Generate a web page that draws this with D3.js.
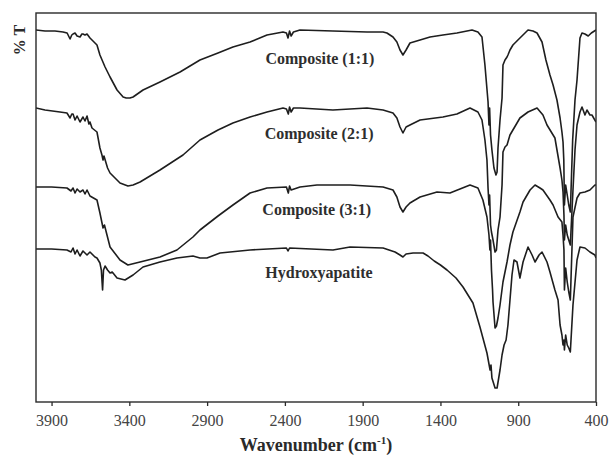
<!DOCTYPE html>
<html><head><meta charset="utf-8">
<script src="https://cdn.jsdelivr.net/npm/d3@7"></script>
<style>
html,body{margin:0;padding:0;background:#fff;}
svg{display:block;}
</style></head>
<body>
<svg id="chart" width="609" height="455"></svg>
<script>
// ---- data: [wavenumber (cm-1), transmittance (arb. units, offset)] ----
const composite11 = [[4000,372],[3942,371],[3878,371],[3826,370],[3800,369],[3781,363],[3770,367],[3762,368],[3749,369],[3736,366],[3717,365],[3705,368],[3698,368],[3685,367],[3672,368],[3653,364],[3640,362],[3608,357],[3589,347],[3556,335],[3524,325],[3479,312],[3440,305],[3420,304],[3396,304],[3376,305],[3312,312],[3203,320],[3074,330],[2946,342],[2830,349],[2734,355],[2624,360],[2515,367],[2412,370],[2390,369],[2380,364],[2370,371],[2360,366],[2345,370],[2303,372],[2091,371],[1872,370],[1769,370],[1744,369],[1705,365],[1680,360],[1660,352],[1641,347],[1621,352],[1596,359],[1531,362],[1467,365],[1384,367],[1294,369],[1197,372],[1159,370],[1133,365],[1114,337],[1094,300],[1088,277],[1084,294],[1078,267],[1069,252],[1056,234],[1043,227],[1036,230],[1030,254],[1017,282],[1004,304],[998,337],[985,342],[972,345],[966,347],[953,352],[934,357],[889,364],[837,372],[805,371],[779,369],[747,360],[722,342],[696,327],[676,317],[651,302],[631,284],[619,270],[612,260],[607,242],[603,197],[595,217],[585,207],[575,197],[565,190],[550,262],[535,302],[522,322],[503,364],[490,369],[471,368],[450,366],[430,369],[410,371],[400,372]];
const composite21 = [[4000,294],[3942,292],[3846,290],[3801,289],[3781,284],[3770,288],[3762,288],[3749,282],[3736,286],[3717,280],[3698,285],[3685,281],[3672,286],[3660,278],[3653,280],[3640,274],[3608,270],[3589,254],[3576,247],[3569,242],[3563,246],[3540,234],[3524,229],[3460,219],[3409,216],[3376,217],[3331,220],[3203,232],[3055,247],[2946,262],[2830,272],[2734,279],[2624,285],[2515,290],[2412,294],[2390,293],[2378,288],[2370,295],[2360,290],[2345,294],[2303,294],[2091,292],[1872,294],[1769,292],[1705,289],[1680,284],[1660,275],[1641,269],[1621,275],[1596,277],[1531,282],[1384,285],[1294,288],[1210,294],[1159,290],[1133,282],[1114,262],[1101,242],[1094,214],[1088,197],[1084,207],[1078,177],[1072,170],[1062,162],[1049,150],[1040,152],[1030,172],[1017,185],[1004,217],[998,250],[985,255],[972,257],[953,267],[889,284],[837,290],[779,294],[741,287],[715,277],[664,264],[631,234],[619,222],[612,210],[606,187],[603,162],[595,177],[585,167],[575,162],[565,157],[548,212],[535,252],[522,277],[503,290],[490,295],[471,287],[458,292],[439,287],[426,287],[400,280]];
const composite31 = [[4000,215],[3900,215],[3801,214],[3775,211],[3762,214],[3749,209],[3736,213],[3717,210],[3698,212],[3685,208],[3672,212],[3653,206],[3608,202],[3589,189],[3569,174],[3560,177],[3524,155],[3460,142],[3409,137],[3331,140],[3203,145],[3094,152],[2991,165],[2946,172],[2830,186],[2734,197],[2624,209],[2515,214],[2390,215],[2378,209],[2370,216],[2360,212],[2303,215],[2194,217],[1981,217],[1769,215],[1705,212],[1680,205],[1660,195],[1641,190],[1621,195],[1596,199],[1531,205],[1422,210],[1339,209],[1210,217],[1159,214],[1127,202],[1101,185],[1088,167],[1082,152],[1078,162],[1072,132],[1065,112],[1062,100],[1049,74],[1040,76],[1030,84],[1017,97],[998,120],[972,140],[953,157],[934,170],[889,190],[869,200],[824,212],[792,217],[760,214],[741,212],[696,202],[676,197],[644,185],[619,180],[612,167],[606,152],[603,112],[595,134],[585,120],[575,110],[565,102],[548,185],[522,204],[503,209],[471,210],[439,212],[407,217],[400,217]];
const hydroxyapatite = [[4000,153],[3900,153],[3801,152],[3775,150],[3762,154],[3749,148],[3736,152],[3717,146],[3698,151],[3672,147],[3653,150],[3621,145],[3608,144],[3589,139],[3580,132],[3572,112],[3566,132],[3556,136],[3540,132],[3524,129],[3510,130],[3479,124],[3428,122],[3376,127],[3312,135],[3203,140],[3094,144],[2991,146],[2946,144],[2901,144],[2817,149],[2624,152],[2390,154],[2380,151],[2370,154],[2091,152],[1981,155],[1769,154],[1692,150],[1660,147],[1641,145],[1621,148],[1576,149],[1512,149],[1480,146],[1440,141],[1400,137],[1358,132],[1300,124],[1255,115],[1191,99],[1146,75],[1101,49],[1081,32],[1075,37],[1069,24],[1049,14],[1036,14],[1017,32],[1004,47],[991,57],[978,62],[966,77],[953,102],[940,127],[927,142],[908,140],[889,124],[869,140],[837,155],[811,147],[792,140],[766,147],[747,150],[715,140],[696,130],[664,112],[644,102],[631,77],[619,67],[612,57],[606,62],[603,52],[595,67],[585,57],[575,54],[565,50],[548,97],[522,142],[503,155],[471,154],[439,150],[407,147],[400,144]];

const seriesList = [composite11, composite21, composite31, hydroxyapatite];
const labelNames = ["Composite (1:1)", "Composite (2:1)", "Composite (3:1)", "Hydroxyapatite"];
const labelWn = [2175, 2180, 2195, 2181];
const labelT = [338, 263, 187, 124];
const xTicks = [3900, 3400, 2900, 2400, 1900, 1400, 900, 400];
const xDomain = [4000, 400];
const yDomain = [0, 389];

// ---- layout ----
const L = 36, T = 13, R = 596, B = 402;
const svg = d3.select("#chart");
const x = d3.scaleLinear().domain(xDomain).range([L, R]);
const y = d3.scaleLinear().domain(yDomain).range([B, T]);

svg.append("defs").append("clipPath").attr("id","clip")
  .append("rect").attr("x", L).attr("y", T).attr("width", R-L).attr("height", B-T);

const line = d3.line().x(d => x(d[0])).y(d => y(d[1]));
const g = svg.append("g").attr("clip-path","url(#clip)");
seriesList.forEach(s => {
  g.append("path").datum(s).attr("d", line)
    .attr("fill","none").attr("stroke","#1e1e1e").attr("stroke-width",1.6)
    .attr("stroke-linejoin","round");
});

// frame
svg.append("rect").attr("x", L).attr("y", T).attr("width", R-L).attr("height", B-T)
  .attr("fill","none").attr("stroke","#2a2a2a").attr("stroke-width",1.4);

// x axis
const xAxis = svg.append("g").attr("transform", `translate(0,${B})`)
  .call(d3.axisBottom(x).tickValues(xTicks).tickFormat(d3.format("d")).tickSize(4).tickPadding(9));
xAxis.select(".domain").remove();
xAxis.selectAll(".tick line").attr("stroke","#2a2a2a").attr("stroke-width",1.3);
xAxis.selectAll(".tick text").attr("fill","#444")
  .style("font-family","'Liberation Serif','Times New Roman',serif").style("font-size","16px");

// x title
const xt = svg.append("text").attr("x", (L+R)/2).attr("y", 451).attr("text-anchor","middle")
  .attr("fill","#2a2a2a").style("font-family","'Liberation Serif','Times New Roman',serif")
  .style("font-size","18px").style("font-weight","bold");
xt.append("tspan").text("Wavenumber (cm");
xt.append("tspan").attr("dy","-7").style("font-size","11px").text("-1");
xt.append("tspan").attr("dy","7").text(")");

// y title
svg.append("text").attr("transform","translate(25,40) rotate(-90)").attr("text-anchor","middle")
  .attr("fill","#2a2a2a").style("font-family","'Liberation Serif','Times New Roman',serif")
  .style("font-size","16px").style("font-weight","bold").text("% T");

// series labels
labelNames.forEach((n, i) => {
  svg.append("text").attr("x", x(labelWn[i])).attr("y", y(labelT[i])).attr("text-anchor","middle")
    .attr("fill","#2e2e2e").style("font-family","'Liberation Serif','Times New Roman',serif")
    .style("font-size","16px").style("font-weight","bold").text(n);
});
</script>
</body></html>
